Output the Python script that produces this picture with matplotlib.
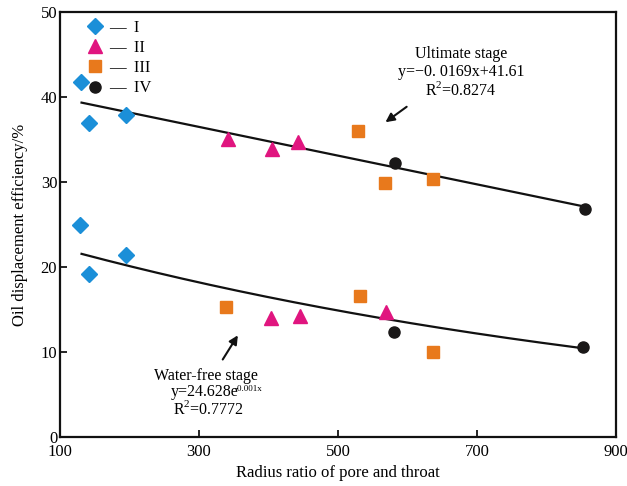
import numpy as np
import matplotlib
matplotlib.use("Agg")
import matplotlib.pyplot as plt

plt.rcParams['font.family'] = ['Liberation Serif', 'DejaVu Serif']
plt.rcParams['mathtext.fontset'] = 'custom'
plt.rcParams['mathtext.rm'] = 'Liberation Serif'

# scatter data (x = radius ratio, y = efficiency %)
x_I = [130, 142, 195, 129, 142, 195]
y_I = [41.8, 37.0, 37.9, 25.0, 19.2, 21.5]

x_II = [341, 405, 443, 404, 445, 569]
y_II = [35.1, 33.9, 34.8, 14.0, 14.3, 14.8]

x_III = [529, 567, 636, 339, 532, 636]
y_III = [36.0, 29.9, 30.4, 15.3, 16.7, 10.1]

x_IV = [582, 856, 581, 853]
y_IV = [32.3, 26.9, 12.4, 10.7]

labels = ["I", "II", "III", "IV"]

# fitted curves from the chart text
ult_slope, ult_icpt = -0.0169, 41.61
wf_a, wf_b = 24.628, -0.001
fit_range = [131, 853]

fig = plt.figure(figsize=(6.27, 4.86), dpi=100)
ax = fig.add_axes([0.0957, 0.0998, 0.8868, 0.8745])

xf = np.linspace(fit_range[0], fit_range[1], 200)
ax.plot(xf, ult_slope * xf + ult_icpt, color="#111111", lw=1.6, zorder=2)
ax.plot(xf, wf_a * np.exp(wf_b * xf), color="#111111", lw=1.6, zorder=2)

ax.plot(x_I, y_I, "D", color="#1B8FD8", ms=8.5, ls="none", label="—  " + labels[0], zorder=3)
ax.plot(x_II, y_II, "^", color="#E0157F", ms=10, ls="none", label="—  " + labels[1], zorder=3)
ax.plot(x_III, y_III, "s", color="#E8791C", ms=9, ls="none", label="—  " + labels[2], zorder=3)
ax.plot(x_IV, y_IV, "o", color="#1A1818", ms=8, ls="none", label="—  " + labels[3], zorder=3)

ax.legend(loc="upper left", bbox_to_anchor=(0.035, 1.0), frameon=False, fontsize=12,
          handlelength=1.0, handletextpad=0.3, labelspacing=0.25, borderaxespad=0.05)

ax.set_xlim(100, 900)
ax.set_ylim(0, 50)
ax.set_xticks([100, 300, 500, 700, 900])
ax.set_yticks([0, 10, 20, 30, 40, 50])
ax.tick_params(direction="in", length=5, width=1.2, labelsize=12)
ax.tick_params(axis="x", pad=5)
ax.tick_params(axis="y", pad=2)
for s in ax.spines.values():
    s.set_linewidth(1.6)
    s.set_color("#111111")

ax.set_xlabel("Radius ratio of pore and throat", fontsize=12, labelpad=3)
ax.set_ylabel("Oil displacement efficiency/%", fontsize=12, labelpad=9)

ax.text(677, 45.1, "Ultimate stage", ha="center", va="center", fontsize=11.5)
ax.text(677, 43.0, "y=−0. 0169x+41.61", ha="center", va="center", fontsize=11.5)
ax.text(677, 40.9, "R$^2$=0.8274", ha="center", va="center", fontsize=11.5)
ax.annotate("", xy=(565, 36.9), xytext=(602, 39.1),
            arrowprops=dict(arrowstyle="-|>", color="#111111", lw=1.5, mutation_scale=13))

ax.text(310, 7.2, "Water-free stage", ha="center", va="center", fontsize=11.5)
ax.text(308, 5.4, "y=24.628e", ha="center", va="center", fontsize=11.5)
ax.text(351, 5.75, "-0.001x", ha="left", va="center", fontsize=6.5)
ax.text(313, 3.3, "R$^2$=0.7772", ha="center", va="center", fontsize=11.5)
ax.annotate("", xy=(358, 12.3), xytext=(332, 8.9),
            arrowprops=dict(arrowstyle="-|>", color="#111111", lw=1.5, mutation_scale=13))

fig.savefig("out.png", dpi=100)
